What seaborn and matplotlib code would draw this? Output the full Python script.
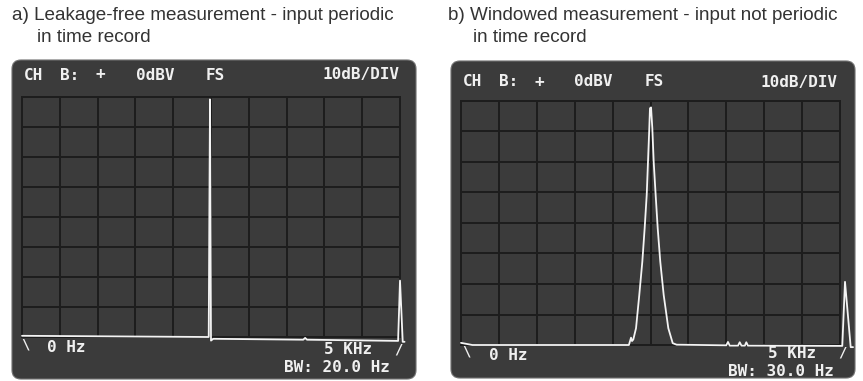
import numpy as np
import pandas as pd
import matplotlib
matplotlib.use("Agg")
import matplotlib.pyplot as plt
import seaborn as sns
from matplotlib.patches import FancyBboxPatch

# ---------------- data ----------------
left_freq = [0, 2470, 2478, 2487, 2500, 2530, 3720, 3745, 3770, 4975, 5000, 5036, 5060]
left_level = [-79.6, -80.0, -40.0, -0.8, -81.2, -80.6, -80.9, -80.3, -80.9, -81.3, -61.2, -81.6, -81.6]

right_freq = [0, 150, 2215, 2243, 2256, 2273, 2309, 2352, 2392, 2423, 2450, 2467, 2484,
              2493, 2507, 2524, 2542, 2568, 2595, 2629, 2674, 2735, 2793, 2845, 3500,
              3522, 3545, 3655, 3677, 3700, 3745, 3764, 3785, 5030, 5066, 5141, 5172]
right_level = [-79.3, -80.0, -80.0, -77.6, -78.7, -78.2, -74.5, -63.6, -52.7, -41.7, -30.8, -19.9, -9.0,
               -2.4, -2.1, -9.0, -19.9, -30.8, -41.7, -52.7, -63.6, -74.5, -79.4, -79.9, -80.1,
               -79.0, -80.2, -80.2, -79.1, -80.2, -80.2, -79.1, -80.2, -80.3, -59.3, -80.7, -80.7]

title_a = ["a) Leakage-free measurement - input periodic", "in time record"]
title_b = ["b) Windowed measurement - input not periodic", "in time record"]
header_tokens = ["CH", "B:", "+", "0dBV", "FS", "10dB/DIV"]
header_cols = [0, 3, 6, 9, 15, 24]
start_label = "0 Hz"
stop_label = "5 KHz"
bw_labels = ["BW: 20.0 Hz", "BW: 30.0 Hz"]

# ---------------- layout ----------------
W, H = 863, 381
sns.set_theme(style="dark")
plt.rcParams['font.family'] = ['DejaVu Sans']

fig = plt.figure(figsize=(W / 100, H / 100), dpi=100)
fig.patch.set_facecolor('white')


def fx(x):
    return x / W


def fy(y):
    return 1 - y / H


SCREEN = '#3b3b3b'
GRIDC = '#1d1d1d'
TRACE = '#f4f4f4'
TXT = '#f0f0f0'
CH = 12.1  # character pitch of the CRT text, px


def screen(x0, y0, x1, y1):
    bg = fig.add_axes([fx(x0), fy(y1), (x1 - x0) / W, (y1 - y0) / H])
    bg.set_xlim(-1, x1 - x0 + 1)
    bg.set_ylim(-1, y1 - y0 + 1)
    bg.axis('off')
    bg.add_patch(FancyBboxPatch((0, 0), x1 - x0, y1 - y0,
                                boxstyle="round,pad=0,rounding_size=9",
                                fc=SCREEN, ec='#707070', lw=0.8))
    return bg


def grid_axes(x0, y0, x1, y1):
    ax = fig.add_axes([fx(x0), fy(y1), (x1 - x0) / W, (y1 - y0) / H])
    ax.set_facecolor('none')
    ax.set_xlim(0, 5000)
    ax.set_ylim(-80, 0)
    ax.set_xticks(np.arange(0, 5001, 500))
    ax.set_yticks(np.arange(-80, 1, 10))
    ax.grid(True, color=GRIDC, lw=1.4)
    ax.tick_params(length=0, labelbottom=False, labelleft=False)
    for s in ax.spines.values():
        s.set_visible(True)
        s.set_color(GRIDC)
        s.set_linewidth(1.4)
    return ax


def crt(x, y, s, size=11.5, ha='center'):
    fig.text(fx(x), fy(y), s, ha=ha, va='center', color=TXT, fontsize=size,
             family='DejaVu Sans Mono', weight='bold')


def header(x0, y):
    for tok, col in zip(header_tokens, header_cols):
        crt(x0 + (col + len(tok) / 2) * CH, y, tok)


def trace(ax, freq, level):
    df = pd.DataFrame({'freq': freq, 'level': level})
    sns.lineplot(data=df, x='freq', y='level', ax=ax, sort=False, estimator=None,
                 color=TRACE, lw=1.3, clip_on=False, zorder=5)
    ax.set_xlabel('')
    ax.set_ylabel('')


title_font = ['Liberation Sans', 'DejaVu Sans']
TS = 13.6

# ---------------- panel a ----------------
screen(11, 59, 417, 380)
axa = grid_axes(22, 97, 400, 337)
trace(axa, left_freq, left_level)
header(21.7, 75)
crt(25, 344, "\\", size=10)
crt(66.5, 347, start_label, size=11.5)
crt(348, 349, stop_label, size=11.5)
crt(398, 349.5, "/", size=10)
crt(336.5, 367, bw_labels[0], size=11.5)
fig.text(fx(12), fy(15), title_a[0], ha='left', va='center', color='#333333',
         fontsize=TS, family=title_font)
fig.text(fx(36.7), fy(38), title_a[1], ha='left', va='center', color='#333333',
         fontsize=TS, family=title_font)

# ---------------- panel b ----------------
screen(450, 60, 856, 379)
axb = grid_axes(461, 101, 840, 345)
trace(axb, right_freq, right_level)
header(460.3, 82)
crt(466, 351.7, "\\", size=10)
crt(508, 356, start_label, size=11.5)
crt(792, 353, stop_label, size=11.5)
crt(842, 352, "/", size=10)
crt(780.5, 371.5, bw_labels[1], size=11.5)
fig.text(fx(448), fy(15), title_b[0], ha='left', va='center', color='#333333',
         fontsize=TS, family=title_font)
fig.text(fx(473), fy(38), title_b[1], ha='left', va='center', color='#333333',
         fontsize=TS, family=title_font)

fig.savefig('out.png', dpi=100, facecolor='white')
